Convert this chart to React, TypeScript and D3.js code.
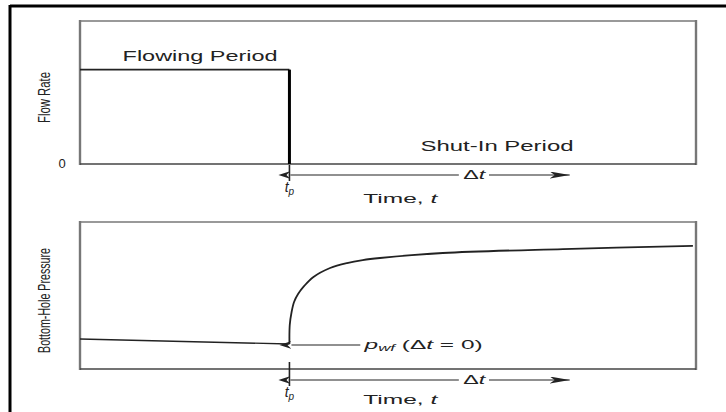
import React from "react";
import * as d3 from "d3";

// time axis (arbitrary units), production time tp
const tp = 34;
const timeDomain = [0, 100];

// flow rate history: constant rate, then shut in at tp
const flowTime = [0, 34, 34, 100];
const flowRate = [66, 66, 0, 0];

// bottom-hole pressure during drawdown (t)
const drawTime = [0, 34];
const drawPressure = [20.4, 17];

// bottom-hole pressure during buildup (shut-in time Δt)
const buildDt = [0, 0.05, 0.35, 0.75, 1.4, 2.4, 3.9, 6.6, 9.35, 11.9, 14.7, 24.9, 44.4, 65.5];
const buildPressure = [17, 29.9, 38.8, 45.6, 51, 56.5, 62.6, 68.7, 72.1, 74.1, 75.5, 78.9, 81.6, 83.7];

const yLabels = ["Flow Rate", "Bottom-Hole Pressure"];
const periodLabels = ["Flowing Period", "Shut-In Period"];

const FONT = "'Liberation Sans', Arial, Helvetica, sans-serif";
const INK = "#222";
const BOX = "#777";

const left = 80;
const right = 696;

const x = d3.scaleLinear().domain(timeDomain).range([left, right]);
const yFlow = d3.scaleLinear().domain([0, 100]).range([164, 21]);
const yPres = d3.scaleLinear().domain([0, 100]).range([369, 222]);

const TimeAxisNote = ({ axisY, tickTop, labelDy }: { axisY: number; tickTop: number; labelDy: number }) => {
  const ay = axisY + 11;
  const xt = x(tp);
  return (
    <g fill={INK} fontFamily={FONT}>
      <line x1={xt} x2={xt} y1={tickTop} y2={ay + 6} stroke={INK} strokeWidth={1.6} />
      <line x1={xt + 1} x2={x(61.5)} y1={ay} y2={ay} stroke={INK} strokeWidth={1.2} markerStart="url(#headSmall)" />
      <text x={x(64)} y={ay + 4} fontSize={13} textAnchor="middle" textLength={22} lengthAdjust="spacingAndGlyphs">
        Δ<tspan fontStyle="italic">t</tspan>
      </text>
      <line x1={x(66.4)} x2={x(79.5)} y1={ay} y2={ay} stroke={INK} strokeWidth={1.2} markerEnd="url(#headBig)" />
      <text x={xt} y={ay + 17} fontSize={14} textAnchor="middle" fontStyle="italic">
        t<tspan fontSize={10} dy={3}>p</tspan>
      </text>
      <text x={x(52)} y={ay + labelDy} fontSize={13} textAnchor="middle" textLength={74} lengthAdjust="spacingAndGlyphs">
        Time, <tspan fontStyle="italic">t</tspan>
      </text>
    </g>
  );
};

export default function App() {
  const flowLine = d3
    .line<number>()
    .x((_, i) => x(flowTime[i]))
    .y((d) => yFlow(d));

  const drawLine = d3
    .line<number>()
    .x((_, i) => x(drawTime[i]))
    .y((d) => yPres(d));

  const buildLine = d3
    .line<number>()
    .x((_, i) => x(tp + buildDt[i]))
    .y((d) => yPres(d))
    .curve(d3.curveCatmullRom.alpha(0.5));

  return (
    <svg width={726} height={412} style={{ position: "absolute", left: 0, top: 0, background: "#fff" }}>
      <defs>
        <marker id="headSmall" viewBox="0 0 12 8" refX={0} refY={4} markerWidth={12} markerHeight={8}
          markerUnits="userSpaceOnUse" orient="auto-start-reverse">
          <path d="M0,0 L12,4 L0,8 L4,4 z" fill={INK} />
        </marker>
        <marker id="headBig" viewBox="0 0 20 7" refX={20} refY={3.5} markerWidth={20} markerHeight={7}
          markerUnits="userSpaceOnUse" orient="auto">
          <path d="M0,0 L20,3.5 L0,7 L5,3.5 z" fill={INK} />
        </marker>
      </defs>

      {/* outer frame (cropped) */}
      <line x1={10} x2={726} y1={6} y2={6} stroke="#000" strokeWidth={3} />
      <line x1={10} x2={10} y1={5} y2={412} stroke="#000" strokeWidth={3} />

      {/* top panel: flow rate */}
      <g>
        <line x1={left} x2={right} y1={21} y2={21} stroke={BOX} strokeWidth={1.6} />
        <line x1={left} x2={left} y1={20} y2={165} stroke={BOX} strokeWidth={2.4} />
        <line x1={right} x2={right} y1={20} y2={165} stroke={BOX} strokeWidth={2.4} />
        <line x1={left} x2={right} y1={164} y2={164} stroke="#444" strokeWidth={1.6} />
        <path d={flowLine(flowRate.slice(0, 2)) ?? ""} fill="none" stroke={INK} strokeWidth={1.6} />
        <line x1={x(tp)} x2={x(tp)} y1={yFlow(flowRate[1])} y2={yFlow(0)} stroke="#000" strokeWidth={3} />
        <text x={x(19.5)} y={61} fontSize={14} fontFamily={FONT} fill={INK} textAnchor="middle"
          textLength={155} lengthAdjust="spacingAndGlyphs">{periodLabels[0]}</text>
        <text x={x(67.7)} y={151} fontSize={14} fontFamily={FONT} fill={INK} textAnchor="middle"
          textLength={153} lengthAdjust="spacingAndGlyphs">{periodLabels[1]}</text>
        <text transform={`translate(50,${(yFlow(0) + yFlow(100)) / 2 + 5}) rotate(-90)`} fontSize={17}
          fontFamily={FONT} fill={INK} textAnchor="middle" textLength={51} lengthAdjust="spacingAndGlyphs">
          {yLabels[0]}
        </text>
        <text x={62} y={yFlow(0) + 4} fontSize={13} fontFamily={FONT} fill={INK} textAnchor="middle">0</text>
        <TimeAxisNote axisY={164} tickTop={165} labelDy={28} />
      </g>

      {/* bottom panel: bottom-hole pressure */}
      <g>
        <line x1={left} x2={right} y1={222} y2={222} stroke={BOX} strokeWidth={1.6} />
        <line x1={left} x2={left} y1={221} y2={370} stroke={BOX} strokeWidth={2.4} />
        <line x1={right} x2={right} y1={221} y2={370} stroke={BOX} strokeWidth={2.4} />
        <line x1={left} x2={right} y1={369} y2={369} stroke="#444" strokeWidth={1.6} />
        <path d={drawLine(drawPressure) ?? ""} fill="none" stroke={INK} strokeWidth={1.4} />
        <path d={buildLine(buildPressure) ?? ""} fill="none" stroke={INK} strokeWidth={1.8} />
        <text transform={`translate(50,${(yPres(0) + yPres(100)) / 2 + 5}) rotate(-90)`} fontSize={17}
          fontFamily={FONT} fill={INK} textAnchor="middle" textLength={105} lengthAdjust="spacingAndGlyphs">
          {yLabels[1]}
        </text>
        <line x1={x(tp) + 2} x2={x(45.5)} y1={yPres(buildPressure[0]) + 1} y2={yPres(buildPressure[0]) + 1}
          stroke={INK} strokeWidth={1.2} markerStart="url(#headSmall)" />
        <text x={x(46.2)} y={yPres(buildPressure[0]) + 5} fontSize={13} fontFamily={FONT} fill={INK}
          textLength={118} lengthAdjust="spacingAndGlyphs">
          <tspan fontStyle="italic">p</tspan>
          <tspan fontSize={9} dy={2} fontStyle="italic">wf</tspan>
          <tspan dy={-2}> (Δ</tspan>
          <tspan fontStyle="italic">t</tspan>
          <tspan> = 0)</tspan>
        </text>
        <TimeAxisNote axisY={369} tickTop={362} labelDy={24} />
      </g>
    </svg>
  );
}
